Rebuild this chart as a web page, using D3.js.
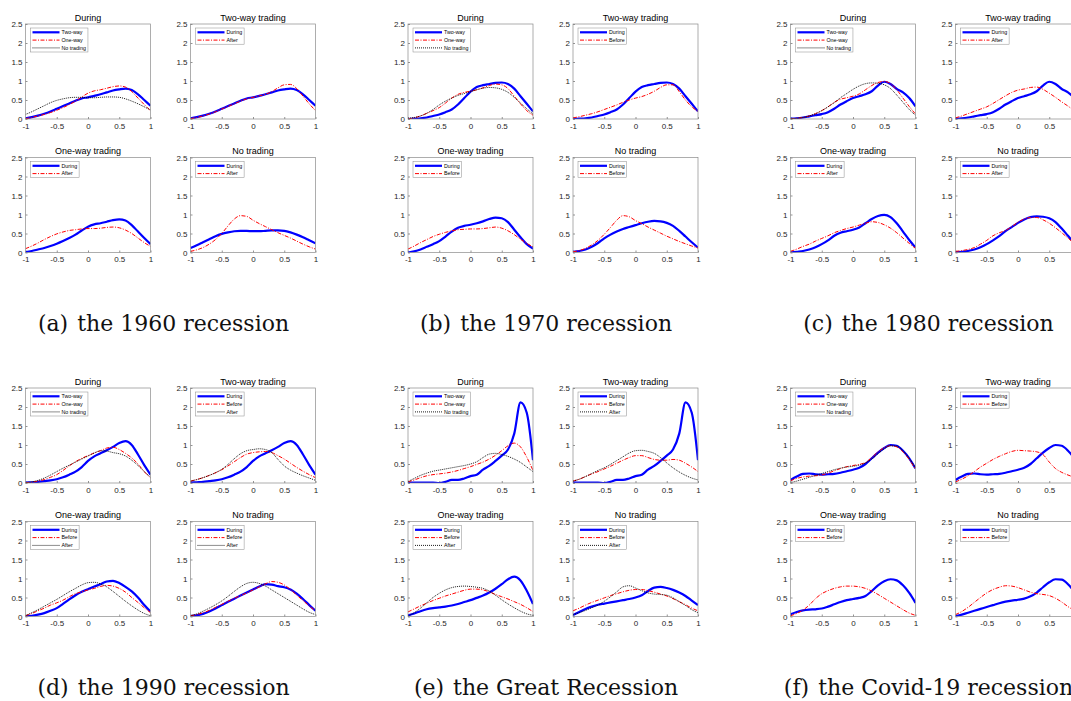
<!DOCTYPE html>
<html lang="en">
<head>
<meta charset="UTF-8">
<title>Densities by trading status across recessions</title>
<script src="https://d3js.org/d3.v7.min.js"></script>
<style>
  body { margin: 0; background: #fff; }
  text { font-family: Arial, 'Liberation Sans', sans-serif; }
  .tick text { font-size: 8px; fill: #262626; }
  .tick line { stroke: #262626; stroke-width: 0.5; }
  .title { font-size: 9px; fill: #000; }
  .leg text { font-size: 5.3px; fill: #000; }
  .cap { font-family: 'DejaVu Serif', serif; font-size: 22px; fill: #111; }
</style>
</head>
<body>
<script>
// grid of x values shared by every curve
const xs = [-1,-0.9,-0.8,-0.7,-0.6,-0.5,-0.4,-0.3,-0.2,-0.1,0,0.1,0.2,0.3,0.4,0.5,0.6,0.7,0.8,0.9,1];

// (a) 1960
const d60_during_two = [0.02,0.05,0.09,0.14,0.2,0.27,0.34,0.41,0.48,0.54,0.57,0.61,0.65,0.7,0.75,0.78,0.8,0.76,0.65,0.5,0.35];
const d60_during_one = [0.01,0.04,0.08,0.12,0.17,0.23,0.3,0.38,0.47,0.58,0.68,0.74,0.77,0.81,0.85,0.87,0.84,0.72,0.55,0.38,0.22];
const d60_during_no  = [0.12,0.19,0.27,0.35,0.43,0.49,0.53,0.56,0.57,0.57,0.56,0.56,0.57,0.58,0.58,0.57,0.53,0.47,0.4,0.32,0.24];
const d60_after_two  = [0.01,0.04,0.08,0.13,0.19,0.26,0.33,0.4,0.47,0.53,0.57,0.61,0.65,0.72,0.82,0.9,0.91,0.8,0.6,0.4,0.22];
const d60_after_one  = [0.1,0.17,0.25,0.34,0.42,0.49,0.54,0.58,0.6,0.62,0.63,0.63,0.64,0.66,0.67,0.65,0.59,0.5,0.38,0.26,0.16];
const d60_after_no   = [0.03,0.07,0.13,0.22,0.34,0.5,0.7,0.88,0.97,0.95,0.85,0.76,0.68,0.6,0.52,0.45,0.38,0.3,0.22,0.15,0.09];

// (b) 1970
const d70_during_two = [0.0,0.01,0.02,0.04,0.08,0.12,0.18,0.25,0.38,0.55,0.72,0.84,0.89,0.92,0.95,0.96,0.92,0.8,0.6,0.4,0.2];
const d70_during_one = [0.0,0.03,0.08,0.15,0.22,0.3,0.42,0.55,0.65,0.7,0.73,0.77,0.82,0.88,0.92,0.9,0.8,0.6,0.4,0.22,0.1];
const d70_during_no  = [0.02,0.04,0.08,0.15,0.25,0.37,0.47,0.55,0.62,0.67,0.72,0.77,0.81,0.83,0.82,0.78,0.7,0.57,0.42,0.27,0.13];
const d70_before_two = [0.03,0.06,0.1,0.14,0.19,0.25,0.31,0.37,0.44,0.5,0.55,0.59,0.65,0.73,0.83,0.9,0.9,0.72,0.5,0.32,0.2];
const d70_before_one = [0.09,0.17,0.26,0.34,0.42,0.48,0.53,0.57,0.6,0.61,0.62,0.62,0.63,0.65,0.67,0.64,0.57,0.47,0.35,0.24,0.15];
const d70_before_no  = [0.02,0.05,0.11,0.2,0.32,0.48,0.66,0.85,0.97,0.94,0.84,0.76,0.67,0.59,0.51,0.43,0.36,0.29,0.23,0.17,0.12];

// (c) 1980
const d80_during_two = [0.01,0.02,0.04,0.07,0.1,0.13,0.18,0.27,0.38,0.47,0.55,0.6,0.65,0.73,0.88,0.98,0.92,0.79,0.7,0.55,0.33];
const d80_during_one = [0.0,0.02,0.04,0.08,0.14,0.22,0.32,0.44,0.52,0.56,0.6,0.66,0.77,0.88,0.96,0.99,0.93,0.77,0.55,0.33,0.13];
const d80_during_no  = [0.01,0.02,0.04,0.08,0.14,0.22,0.32,0.43,0.56,0.67,0.78,0.87,0.93,0.95,0.94,0.9,0.8,0.63,0.44,0.25,0.1];
const d80_after_two  = [0.03,0.08,0.14,0.2,0.26,0.32,0.41,0.51,0.61,0.7,0.76,0.79,0.83,0.84,0.78,0.68,0.57,0.45,0.34,0.22,0.13];
const d80_after_one  = [0.03,0.09,0.16,0.22,0.3,0.37,0.44,0.52,0.58,0.63,0.67,0.72,0.77,0.81,0.79,0.73,0.64,0.52,0.38,0.24,0.11];
const d80_after_no   = [0.03,0.05,0.08,0.13,0.22,0.32,0.44,0.52,0.58,0.68,0.8,0.88,0.92,0.92,0.86,0.77,0.65,0.52,0.38,0.24,0.12];

// (d) 1990
const d90_during_two = [0.01,0.02,0.03,0.05,0.07,0.1,0.15,0.22,0.3,0.42,0.58,0.7,0.78,0.86,0.95,1.05,1.1,1.0,0.75,0.47,0.22];
const d90_during_one = [0.01,0.02,0.05,0.09,0.15,0.22,0.33,0.45,0.56,0.65,0.72,0.79,0.85,0.92,0.94,0.88,0.78,0.66,0.5,0.3,0.13];
const d90_during_no  = [0.01,0.03,0.07,0.13,0.21,0.3,0.39,0.47,0.55,0.63,0.71,0.79,0.85,0.84,0.8,0.77,0.71,0.6,0.46,0.3,0.15];
const d90_before_two = [0.05,0.09,0.14,0.2,0.27,0.35,0.45,0.56,0.67,0.76,0.8,0.82,0.83,0.8,0.72,0.63,0.52,0.41,0.31,0.22,0.14];
const d90_before_one = [0.02,0.08,0.15,0.22,0.3,0.36,0.43,0.52,0.6,0.65,0.7,0.74,0.79,0.82,0.8,0.74,0.64,0.5,0.37,0.23,0.1];
const d90_before_no  = [0.02,0.05,0.1,0.16,0.24,0.32,0.4,0.48,0.55,0.62,0.7,0.78,0.86,0.92,0.9,0.83,0.71,0.56,0.42,0.28,0.15];
const d90_after_two  = [0.05,0.09,0.14,0.2,0.27,0.36,0.49,0.64,0.77,0.85,0.88,0.9,0.88,0.8,0.62,0.45,0.34,0.26,0.19,0.13,0.07];
const d90_after_one  = [0.02,0.1,0.18,0.27,0.36,0.45,0.55,0.65,0.74,0.83,0.89,0.9,0.86,0.78,0.66,0.53,0.4,0.28,0.17,0.08,0.02];
const d90_after_no   = [0.02,0.07,0.14,0.22,0.31,0.41,0.53,0.66,0.78,0.87,0.9,0.87,0.8,0.7,0.6,0.5,0.4,0.3,0.2,0.11,0.05];

// (e) Great Recession
const dGR_during_two = [0.02,0.01,0.01,0.01,0.01,0.0,0.03,0.08,0.08,0.12,0.18,0.22,0.35,0.45,0.58,0.72,0.88,1.3,2.12,1.85,0.6];
const dGR_during_one = [0.03,0.08,0.14,0.19,0.22,0.24,0.26,0.29,0.33,0.38,0.43,0.49,0.55,0.63,0.73,0.85,0.98,1.05,0.95,0.68,0.33];
const dGR_during_no  = [0.04,0.12,0.2,0.26,0.31,0.34,0.37,0.4,0.43,0.46,0.5,0.56,0.67,0.76,0.78,0.75,0.7,0.63,0.54,0.42,0.3];
const dGR_before_two = [0.05,0.1,0.17,0.24,0.3,0.37,0.44,0.52,0.6,0.67,0.72,0.72,0.67,0.62,0.6,0.6,0.62,0.6,0.52,0.42,0.3];
const dGR_before_one = [0.12,0.2,0.28,0.35,0.42,0.48,0.54,0.59,0.64,0.69,0.72,0.72,0.7,0.65,0.58,0.52,0.46,0.39,0.32,0.23,0.13];
const dGR_before_no  = [0.15,0.22,0.3,0.37,0.43,0.49,0.55,0.6,0.65,0.69,0.71,0.71,0.68,0.64,0.59,0.54,0.47,0.39,0.31,0.22,0.15];
const dGR_after_two  = [0.05,0.1,0.17,0.25,0.33,0.4,0.49,0.59,0.69,0.79,0.85,0.86,0.83,0.78,0.67,0.53,0.4,0.29,0.2,0.13,0.08];
const dGR_after_one  = [0.01,0.1,0.22,0.36,0.5,0.61,0.7,0.76,0.79,0.8,0.79,0.77,0.74,0.67,0.56,0.44,0.33,0.23,0.14,0.07,0.03];
const dGR_after_no   = [0.05,0.1,0.16,0.23,0.3,0.4,0.52,0.65,0.78,0.81,0.75,0.68,0.62,0.59,0.58,0.56,0.49,0.39,0.29,0.18,0.1];

// (f) Covid-19
const dCV_during_two = [0.08,0.17,0.24,0.25,0.23,0.22,0.23,0.24,0.27,0.31,0.35,0.4,0.5,0.65,0.8,0.92,1.0,0.98,0.85,0.65,0.38];
const dCV_during_one = [0.06,0.12,0.16,0.18,0.19,0.21,0.26,0.32,0.38,0.43,0.46,0.49,0.54,0.67,0.82,0.93,0.98,0.95,0.82,0.62,0.36];
const dCV_during_no  = [0.01,0.05,0.1,0.15,0.2,0.25,0.3,0.35,0.39,0.42,0.44,0.47,0.53,0.63,0.77,0.9,0.98,0.97,0.85,0.65,0.4];
const dCV_before_two = [0.03,0.1,0.19,0.3,0.42,0.52,0.62,0.7,0.77,0.83,0.86,0.85,0.84,0.82,0.75,0.55,0.38,0.28,0.21,0.15,0.1];
const dCV_before_one = [0.02,0.08,0.17,0.3,0.47,0.6,0.68,0.74,0.78,0.8,0.8,0.78,0.74,0.67,0.58,0.48,0.38,0.28,0.18,0.09,0.03];
const dCV_before_no  = [0.05,0.13,0.24,0.37,0.5,0.62,0.71,0.77,0.81,0.8,0.76,0.7,0.64,0.6,0.58,0.55,0.48,0.38,0.26,0.16,0.08];

const xTicks = [-1, -0.5, 0, 0.5, 1];
const yTicks = [0, 0.5, 1, 1.5, 2, 2.5];

const recessions = [
  {tag: "(a)", name: "the 1960 recession",
   during: [d60_during_two, d60_during_one, d60_during_no],
   others: [["After", [d60_after_two, d60_after_one, d60_after_no]]]},
  {tag: "(b)", name: "the 1970 recession",
   during: [d70_during_two, d70_during_one, d70_during_no],
   others: [["Before", [d70_before_two, d70_before_one, d70_before_no]]]},
  {tag: "(c)", name: "the 1980 recession",
   during: [d80_during_two, d80_during_one, d80_during_no],
   others: [["After", [d80_after_two, d80_after_one, d80_after_no]]]},
  {tag: "(d)", name: "the 1990 recession",
   during: [d90_during_two, d90_during_one, d90_during_no],
   others: [["Before", [d90_before_two, d90_before_one, d90_before_no]],
            ["After", [d90_after_two, d90_after_one, d90_after_no]]]},
  {tag: "(e)", name: "the Great Recession",
   during: [dGR_during_two, dGR_during_one, dGR_during_no],
   others: [["Before", [dGR_before_two, dGR_before_one, dGR_before_no]],
            ["After", [dGR_after_two, dGR_after_one, dGR_after_no]]]},
  {tag: "(f)", name: "the Covid-19 recession",
   during: [dCV_during_two, dCV_during_one, dCV_during_no],
   others: [["Before", [dCV_before_two, dCV_before_one, dCV_before_no]]]}
];

const groupTitles = ["Two-way trading", "One-way trading", "No trading"];
const groupNames = ["Two-way", "One-way", "No trading"];

const width = 1071, height = 701;
const pw = 125, ph = 95;        // one axes box
const colX = [25.5, 408, 790.5]; // left edge of each subfigure's first axes
const rowY = [24, 388];         // top edge of each subfigure's first axes
const dx = 165, dy = 133.5;     // offsets to 2nd column / 2nd row of axes

const styles = [
  {color: "#0000ff", w: 2.2, dash: null},
  {color: "#ff0000", w: 1.0, dash: "4,1.5,1,1.5"},
  {color: "#000000", w: 0.9, dash: "1,1"}
];

const svg = d3.select("body").append("svg")
    .attr("width", width).attr("height", height);

const x = d3.scaleLinear().domain([-1, 1]).range([0, pw]);
const y = d3.scaleLinear().domain([0, 2.5]).range([ph, 0]);
const line = d3.line()
    .x((d, i) => x(xs[i]))
    .y(d => y(d))
    .curve(d3.curveMonotoneX);

let clipId = 0;

function panel(px, py, title, series) {
    const g = svg.append("g").attr("transform", "translate(" + [px, py] + ")");

    g.append("g")
        .attr("transform", "translate(0," + ph + ")")
        .call(d3.axisBottom(x).tickValues(xTicks).tickSize(-2).tickPadding(4).tickFormat(d => String(d)))
        .call(a => a.select(".domain").remove())
        // labels that would fall past the page edge are not drawn (cut off in the original too)
        .call(a => a.selectAll(".tick text").filter(d => px + x(d) + 2 > width).remove());
    g.append("g")
        .call(d3.axisLeft(y).tickValues(yTicks).tickSize(-2).tickPadding(3).tickFormat(d => String(d)))
        .call(a => a.select(".domain").remove());

    const id = "clip" + (clipId++);
    g.append("clipPath").attr("id", id)
        .append("rect").attr("width", pw).attr("height", ph);

    const plot = g.append("g").attr("clip-path", "url(#" + id + ")");
    series.forEach((s, i) => {
        plot.append("path")
            .attr("d", line(s.values))
            .attr("fill", "none")
            .attr("stroke", styles[i].color)
            .attr("stroke-width", styles[i].w)
            .attr("stroke-dasharray", styles[i].dash);
    });

    g.append("rect")
        .attr("width", pw).attr("height", ph)
        .attr("fill", "none")
        .attr("stroke", "#8a8a8a")
        .attr("stroke-width", 0.7);

    g.append("text").attr("class", "title")
        .attr("x", pw / 2).attr("y", -3.5)
        .attr("text-anchor", "middle")
        .text(title);

    // legend, top-left inside the axes
    const leg = g.append("g").attr("class", "leg").attr("transform", "translate(5,4)");
    const box = leg.append("rect")
        .attr("fill", "#fff").attr("stroke", "#8a8a8a").attr("stroke-width", 0.5);
    let maxW = 0;
    series.forEach((s, i) => {
        const ly = 4.3 + i * 7.8;
        leg.append("line")
            .attr("x1", 2).attr("x2", 29).attr("y1", ly).attr("y2", ly)
            .attr("stroke", styles[i].color)
            .attr("stroke-width", styles[i].w)
            .attr("stroke-dasharray", styles[i].dash);
        const t = leg.append("text")
            .attr("x", 31).attr("y", ly).attr("dy", "0.35em")
            .text(s.label);
        maxW = Math.max(maxW, t.node().getComputedTextLength());
    });
    box.attr("width", 31 + maxW + 2).attr("height", series.length * 7.8 + 0.6);
}

recessions.forEach((r, k) => {
    const cx = colX[k % 3], cy = rowY[Math.floor(k / 3)];

    panel(cx, cy, "During",
        r.during.map((v, i) => ({values: v, label: groupNames[i]})));

    [0, 1, 2].forEach(gi => {
        const p = gi + 1;
        const series = [{values: r.during[gi], label: "During"}]
            .concat(r.others.map(o => ({values: o[1][gi], label: o[0]})));
        panel(cx + (p % 2) * dx, cy + Math.floor(p / 2) * dy, groupTitles[gi], series);
    });

    const cap = svg.append("text").attr("class", "cap")
        .attr("x", cx + 138).attr("y", cy + 307)
        .attr("text-anchor", "middle");
    cap.append("tspan").text(r.tag);
    cap.append("tspan").attr("dx", 9).text(r.name);
});
</script>
</body>
</html>
